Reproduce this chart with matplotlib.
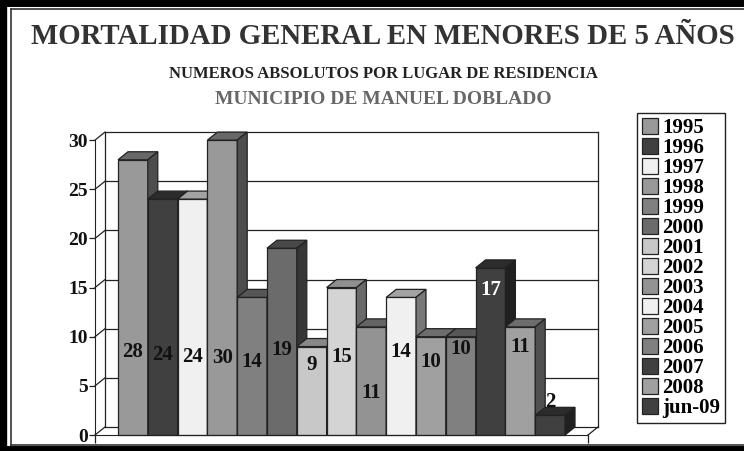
import numpy as np
import matplotlib
matplotlib.use("Agg")
import matplotlib.pyplot as plt
from matplotlib.patches import Polygon, Patch
from matplotlib.lines import Line2D
from matplotlib.colors import to_rgb

years = ['1995', '1996', '1997', '1998', '1999', '2000', '2001', '2002',
         '2003', '2004', '2005', '2006', '2007', '2008', 'jun-09']
deaths = [28, 24, 24, 30, 14, 19, 9, 15, 11, 14, 10, 10, 17, 11, 2]
colors = ['#999999', '#404040', '#f0f0f0', '#999999', '#808080', '#6b6b6b',
          '#c8c8c8', '#d4d4d4', '#939393', '#f0f0f0', '#a0a0a0', '#808080',
          '#404040', '#a0a0a0', '#404040']
yticks = [0, 5, 10, 15, 20, 25, 30]

# where the value labels sit (Excel put them at odd heights)
label_y = [8.4, 8.1, 7.9, 7.8, 7.4, 8.6, 7.1, 7.9, 4.3, 8.4, 7.4, 8.7, 14.8, 9.0, 3.4]

W, H = 744, 451
fig = plt.figure(figsize=(W / 100, H / 100), dpi=100)
serif = ['Liberation Serif', 'DejaVu Serif']
plt.rcParams['font.family'] = serif
plt.rcParams['font.weight'] = 'bold'

# pixel geometry of the reference
px_bar0, px_bar = 118, 29.8      # left of first bar, bar width
py_zero, py_unit = 435, 9.83     # baseline, pixels per unit
ax_l, ax_r, ax_t, ax_b = 60, 615, 120, 445
ax = fig.add_axes([ax_l / W, 1 - ax_b / H, (ax_r - ax_l) / W, (ax_b - ax_t) / H])
ax.set_xlim((ax_l - px_bar0) / px_bar, (ax_r - px_bar0) / px_bar)
ax.set_ylim((py_zero - ax_b) / py_unit, (py_zero - ax_t) / py_unit)
ax.patch.set_visible(False)

dx, dy = 10 / px_bar, 8 / py_unit
x_left, x_right = (95 - px_bar0) / px_bar, (588 - px_bar0) / px_bar
ymax = 30
lc = '#222222'
lw = 0.9

# back wall, floor and gridlines
for t in yticks:
    ax.plot([x_left + dx, x_right + dx], [t + dy, t + dy], color=lc, lw=lw, zorder=1)
ax.plot([x_left + dx, x_left + dx], [dy, ymax + dy], color=lc, lw=lw, zorder=1)
ax.plot([x_right + dx, x_right + dx], [dy, ymax + dy], color=lc, lw=lw, zorder=1)
for t in yticks:
    ax.plot([x_left, x_left + dx], [t, t + dy], color=lc, lw=lw, zorder=1)
ax.plot([x_right, x_right + dx], [0, dy], color=lc, lw=lw, zorder=1)

# 3D-looking bars
for i, (v, c) in enumerate(zip(deaths, colors)):
    rgb = np.array(to_rgb(c))
    z = 3 + i * 3
    ax.bar(i, v, width=1, align='edge', color=c, edgecolor=lc, linewidth=lw, zorder=z)
    top = [(i, v), (i + 1, v), (i + 1 + dx, v + dy), (i + dx, v + dy)]
    side = [(i + 1, 0), (i + 1 + dx, dy), (i + 1 + dx, v + dy), (i + 1, v)]
    ax.add_patch(Polygon(top, closed=True, facecolor=rgb * 0.68, edgecolor=lc, lw=lw, zorder=z + 1))
    ax.add_patch(Polygon(side, closed=True, facecolor=rgb * 0.5, edgecolor=lc, lw=lw, zorder=z + 1))
    tc = 'white' if i == 12 else '#111111'
    ax.text(i + 0.5, label_y[i], str(v), ha='center', va='center', fontsize=15,
            fontweight='bold', color=tc, zorder=100)

# axes
for s in ['top', 'right']:
    ax.spines[s].set_visible(False)
ax.spines['left'].set_position(('data', x_left))
ax.spines['left'].set_bounds(0, ymax)
ax.spines['bottom'].set_position(('data', 0))
ax.spines['bottom'].set_bounds(x_left, x_right)
ax.spines['left'].set_color(lc)
ax.spines['bottom'].set_color(lc)
ax.spines['left'].set_zorder(200)
ax.spines['bottom'].set_zorder(200)
ax.set_yticks(yticks)
ax.set_yticklabels([str(t) for t in yticks], fontsize=14, fontweight='bold', color='#111111')
ax.tick_params(axis='y', direction='out', length=4, width=lw, color=lc, pad=1)
ax.set_xticks([x_left, x_right])
ax.set_xticklabels(['', ''])
ax.tick_params(axis='x', direction='out', length=6, width=lw, color=lc)

# titles
cx = 383 / W
fig.text(cx, 1 - 36 / H, 'MORTALIDAD GENERAL EN MENORES DE 5 AÑOS', ha='center', va='center',
         fontsize=20.8, fontweight='bold', color='#333333')
fig.text(cx, 1 - 74 / H, 'NUMEROS ABSOLUTOS POR LUGAR DE RESIDENCIA', ha='center', va='center',
         fontsize=12, fontweight='bold', color='#222222')
fig.text(cx, 1 - 100 / H, 'MUNICIPIO DE MANUEL DOBLADO', ha='center', va='center',
         fontsize=14, fontweight='bold', color='#666666')

# legend
handles = [Patch(facecolor=c, edgecolor=lc, linewidth=lw) for c in colors]
leg = fig.legend(handles, years, loc='upper left', bbox_to_anchor=(637 / W, 1 - 113 / H),
                 bbox_transform=fig.transFigure, fancybox=False, framealpha=1,
                 edgecolor=lc, prop={'family': serif, 'weight': 'bold', 'size': 15},
                 handlelength=0.75, handleheight=0.75, handletextpad=0.2,
                 labelspacing=0.0, borderpad=0.25, borderaxespad=0)
leg.get_frame().set_linewidth(1.0)

# double frame round the chart
fig.add_artist(Line2D([3 / W, 3 / W], [0, 1], color='black', lw=6, transform=fig.transFigure))
fig.add_artist(Line2D([0, 1], [1 - 2.5 / H, 1 - 2.5 / H], color='black', lw=5, transform=fig.transFigure))
fig.add_artist(Line2D([0, 1], [2.5 / H, 2.5 / H], color='black', lw=5, transform=fig.transFigure))
fig.add_artist(Line2D([10.5 / W, 10.5 / W], [6 / H, 1 - 9 / H], color='#333333', lw=1.2, transform=fig.transFigure))
fig.add_artist(Line2D([10.5 / W, 1], [1 - 9 / H, 1 - 9 / H], color='#333333', lw=1.2, transform=fig.transFigure))
fig.add_artist(Line2D([10.5 / W, 1], [6 / H, 6 / H], color='#333333', lw=1.2, transform=fig.transFigure))

fig.savefig('out.png', dpi=100)
